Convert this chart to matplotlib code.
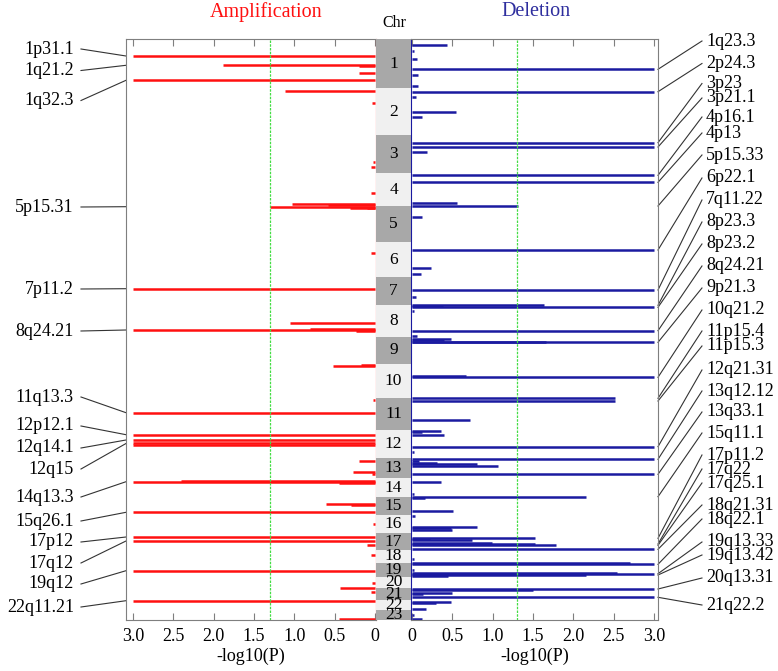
import matplotlib.pyplot as plt
from matplotlib.transforms import blended_transform_factory

plt.rcParams['font.family'] = ['Liberation Serif', 'DejaVu Serif']

# chromosome band heights (same units as the positions below)
chrom_names = [str(i) for i in range(1, 24)]
chrom_sizes = [49, 47, 38, 33, 36, 35, 28, 32, 27, 34, 32, 28,
               20, 19, 18, 18, 17, 13, 14, 11, 12, 10, 10]

# amplification: genome position, -log10(P) (capped at 3)
amp_pos = [17, 26.3, 27, 34.3, 41.3, 51.7, 63.7, 122.7, 128.3, 154.3,
           165, 166, 167.7, 168.5, 169, 214.3, 249.7, 283.7, 290, 291,
           292, 325.7, 326.7, 361, 373.7, 395.7, 401, 403.5, 405.5, 421.7,
           433.3, 435.3, 441.8, 442.7, 443.5, 465, 466, 473.3, 485, 498,
           502, 506.3, 515.7, 531.7, 544.3, 549.3, 552.7, 561.7, 580]
amp_val = [3.0, 1.88, 0.2, 0.2, 3.0, 1.11, 0.04, 0.02, 0.05, 0.05,
           1.03, 0.58, 1.30, 0.31, 0.1, 0.05, 3.0, 1.05, 0.8, 3.0,
           0.23, 0.18, 0.52, 0.02, 3.0, 3.0, 3.0, 3.0, 3.0, 0.2,
           0.27, 0.04, 2.4, 3.0, 0.45, 0.61, 0.3, 3.0, 0.03, 3.0,
           3.0, 0.1, 0.05, 3.0, 0.04, 0.43, 0.05, 3.0, 0.45]

amp_labels = ['1p31.1', '1q21.2', '1q32.3', '5p15.31', '7p11.2', '8q24.21',
              '11q13.3', '12p12.1', '12q14.1', '12q15', '14q13.3', '15q26.1',
              '17p12', '17q12', '19q12', '22q11.21']
amp_label_pos = [10, 31.5, 61.5, 168, 250, 292, 358, 387, 409, 430,
                 458, 482, 503, 524, 545, 568]
amp_label_target = [17, 26.3, 41.3, 167.7, 249.7, 291, 373.7, 395.7, 401,
                    404.5, 442.7, 473.3, 498, 502, 531.7, 561.7]

# deletion
del_pos = [6, 12, 20.3, 30.3, 36, 47, 52.7, 57.7, 73.3, 77.7,
           103.7, 108, 113.3, 136.3, 143.3, 163.7, 167, 177.7, 211, 228.7,
           234.7, 251, 257.7, 266.3, 266.8, 268.3, 272, 291.7, 297, 300,
           301, 302.5, 303.3, 336.7, 338.3, 359.3, 362, 381, 392, 393,
           395.7, 407.7, 412.7, 420.3, 422, 423.7, 425.3, 427, 435.3, 442.7,
           455, 457.7, 458.5, 472, 477, 487.7, 489.3, 491, 499.3, 500,
           501, 503.7, 505, 506.3, 510.3, 520.3, 524.3, 525.3, 531, 533.7,
           534.7, 536, 536.8, 550, 550.8, 554.3, 555, 558.3, 562.7, 563.5,
           570, 576, 580]
del_val = [0.44, 0.02, 0.06, 3.0, 0.08, 0.07, 3.0, 0.05, 0.55, 0.12,
           3.0, 3.0, 0.19, 3.0, 3.0, 0.56, 1.32, 0.12, 3.0, 0.24,
           0.11, 3.0, 0.05, 1.64, 0.39, 3.0, 0.03, 3.0, 0.06, 0.49,
           0.4, 1.66, 3.0, 0.67, 3.0, 2.52, 2.52, 0.72, 0.36, 0.12,
           0.40, 3.0, 0.02, 3.0, 0.09, 0.31, 0.81, 1.07, 3.0, 0.36,
           0.03, 2.16, 0.16, 0.51, 0.04, 0.8, 0.49, 0.50, 1.53, 0.22,
           0.75, 0.99, 1.52, 1.79, 3.0, 0.03, 2.70, 3.0, 0.03, 2.54,
           3.0, 2.16, 0.45, 3.0, 1.5, 0.5, 0.14, 3.0, 0.49, 0.3,
           0.17, 0.03, 0.13]

del_labels = ['1q23.3', '2p24.3', '3p23', '3p21.1', '4p16.1', '4p13',
              '5p15.33', '6p22.1', '7q11.22', '8p23.3', '8p23.2', '8q24.21',
              '9p21.3', '10q21.2', '11p15.4', '11p15.3', '12q21.31',
              '13q12.12', '13q33.1', '15q11.1', '17p11.2', '17q22',
              '17q25.1', '18q21.31', '18q22.1', '19q13.33', '19q13.42',
              '20q13.31', '21q22.2']
del_label_pos = [2, 24.5, 44.5, 59, 78, 94, 116, 139, 161, 183, 205, 227,
                 249, 271, 292, 307, 331, 352, 373, 394, 416, 430, 444,
                 466, 480, 503, 516, 539, 566]
del_label_target = [30.3, 52.7, 103.7, 108, 136.3, 143.3, 167, 211, 251,
                    266.3, 268.3, 291.7, 303.3, 338.3, 359.3, 362, 407.7,
                    420.3, 435.3, 457.7, 499.3, 505, 506.3, 510.3, 525.3,
                    534.7, 536, 550, 558.3]

threshold = 1.3
ticks = [3.0, 2.5, 2.0, 1.5, 1.0, 0.5, 0]
tick_labels = ['3.0', '2.5', '2.0', '1.5', '1.0', '0.5', '0']

W, H = 778, 671
fig = plt.figure(figsize=(W / 100, H / 100), dpi=100)


def px_axes(x0, x1, y0, y1):
    return fig.add_axes([x0 / W, 1 - y1 / H, (x1 - x0) / W, (y1 - y0) / H])


top, bottom = 39, 620
ax_amp = px_axes(126, 376, top, bottom)
ax_chr = px_axes(376, 411, top, bottom)
ax_del = px_axes(411, 658, top, bottom)

total = sum(chrom_sizes)
gray = '#7f7f7f'
red = '#ff1010'
blue = '#1a1aa0'

# amplification panel
ax_amp.hlines(amp_pos, 0, amp_val, color=red, lw=1.8)
ax_amp.axvline(threshold, color='#44dd44', lw=0.9, ls=(0, (2, 1)))
ax_amp.set_xlim(3.087, -0.012)
ax_amp.set_ylim(total, 0)
for side in ['left', 'top', 'bottom']:
    ax_amp.spines[side].set_color(gray)
ax_amp.spines['right'].set_color(red)

# deletion panel
ax_del.hlines(del_pos, 0, del_val, color=blue, lw=1.8)
ax_del.axvline(threshold, color='#44dd44', lw=0.9, ls=(0, (2, 1)))
ax_del.set_xlim(-0.012, 3.05)
ax_del.set_ylim(total, 0)
for side in ['right', 'top', 'bottom']:
    ax_del.spines[side].set_color(gray)
ax_del.spines['left'].set_color(blue)

for ax in (ax_amp, ax_del):
    ax.set_xticks(ticks)
    ax.set_xticklabels(tick_labels, fontsize=13)
    ax.set_yticks([])
    ax.tick_params(axis='x', direction='in', top=True, length=5,
                   color=gray, pad=6)
    ax.set_xlabel('-log10(P)', fontsize=13, labelpad=2)

# chromosome column
starts = [sum(chrom_sizes[:i]) for i in range(len(chrom_sizes))]
colors = ['#a8a8a8' if i % 2 == 0 else '#f0f0f0' for i in range(len(chrom_sizes))]
ax_chr.barh(starts, [1] * len(starts), height=chrom_sizes, left=0,
            align='edge', color=colors, edgecolor='none')
for name, s, h in zip(chrom_names, starts, chrom_sizes):
    ax_chr.text(0.5, s + h / 2, name, ha='center', va='center', fontsize=12.5)
ax_chr.set_xlim(0, 1)
ax_chr.set_ylim(total, 0)
ax_chr.axis('off')

# labels with leader lines
t_amp = blended_transform_factory(ax_amp.transAxes, ax_amp.transData)
for lab, ty, y in zip(amp_labels, amp_label_pos, amp_label_target):
    ax_amp.plot([0, -0.18], [y, ty], color='#333333', lw=0.8,
                transform=t_amp, clip_on=False)
    ax_amp.text(-0.208, ty, lab, ha='right', va='center', fontsize=13,
                transform=t_amp)

t_del = blended_transform_factory(ax_del.transAxes, ax_del.transData)
for lab, ty, y in zip(del_labels, del_label_pos, del_label_target):
    ax_del.plot([1.0, 1.178], [y, ty], color='#333333', lw=0.8,
                transform=t_del, clip_on=False)
    ax_del.text(1.194, ty, lab, ha='left', va='center', fontsize=13,
                transform=t_del)

fig.text(266 / W, 1 - 12 / H, 'Amplification', color=red, fontsize=14.5,
         ha='center', va='center')
fig.text(536 / W, 1 - 12 / H, 'Deletion', color='#2e2e9e', fontsize=14.5,
         ha='center', va='center')
fig.text(394 / W, 1 - 23 / H, 'Chr', fontsize=11.5, ha='center', va='center')

fig.savefig('out.png', dpi=100)
